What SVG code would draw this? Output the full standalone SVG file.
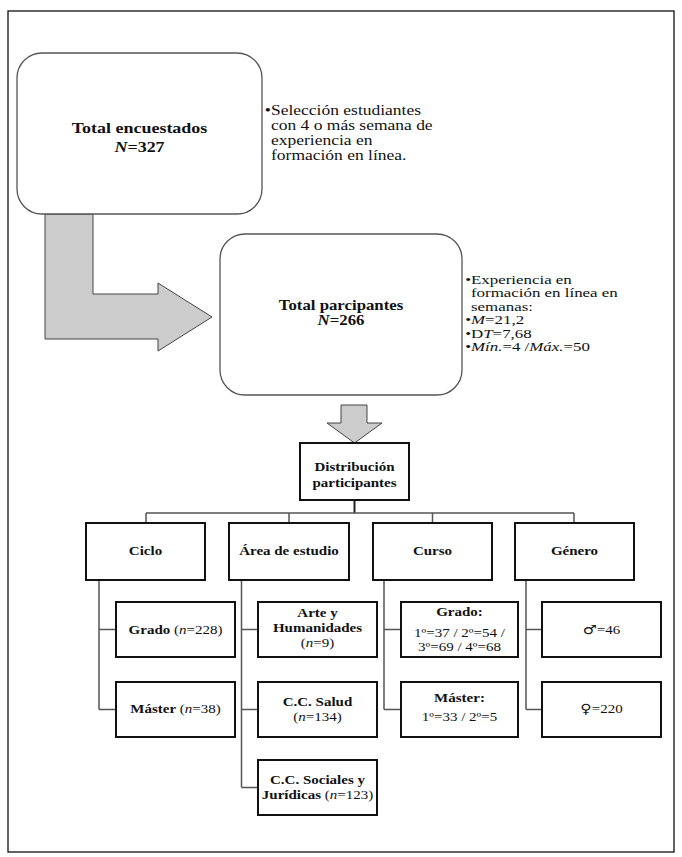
<svg xmlns="http://www.w3.org/2000/svg" width="682" height="857" viewBox="0 0 682 857">
<style>
text{font-family:"Liberation Serif","Times New Roman","DejaVu Serif",serif;fill:#111}
.t{font-size:14px;font-weight:bold;text-anchor:middle}
.t1{font-size:15px;font-weight:bold;text-anchor:middle}
.b1{font-size:14px}
.b2{font-size:13px}
.h{font-size:12.5px;font-weight:bold;text-anchor:middle}
.c{font-size:12.5px;text-anchor:middle}
.bo{font-weight:bold}
.i{font-style:italic}
.sym{font-family:"DejaVu Sans",sans-serif;font-size:13px}
.rr{fill:#fff;stroke:#555;stroke-width:1.3}
.bx{fill:#fff;stroke:#111;stroke-width:2}
.ln{fill:none;stroke:#555;stroke-width:1.5}
.ar{fill:#cccccc;stroke:#444;stroke-width:1}
</style>
<rect x="8" y="11" width="666" height="841" fill="#fff" stroke="#111" stroke-width="1.3"/>

<g id="connectors">
<polygon class="ar" points="45,214 93,214 93,294 158,294 158,283 212,317 158,351 158,339 45,339"/>
<polygon class="ar" points="341,405 367,405 367,423 382,423 354.5,443 327,423 341,423"/>
<path d="M354.5 500V513" fill="none" stroke="#222" stroke-width="2"/>
<path class="ln" d="M146 513H574M146 513V523M289 513V523M432.5 513V523M574 513V523"/>
<path class="ln" d="M99 580V709.5M99 629.5H116M99 709.5H116"/>
<path class="ln" d="M241.5 580V787.5M241.5 629.5H258M241.5 709.5H258M241.5 787.5H258"/>
<path class="ln" d="M384 580V709.5M384 629.5H401M384 709.5H401"/>
<path class="ln" d="M526 580V709.5M526 629.5H542M526 709.5H542"/>
</g>

<g id="total-encuestados">
<rect class="rr" x="17" y="53" width="245" height="161" rx="25"/>
<text class="t1" transform="matrix(1.2 0 0 1 139.5 0)"><tspan x="0" y="133">Total encuestados</tspan><tspan x="0" y="152"><tspan class="i">N</tspan>=327</tspan></text>
</g>
<g id="nota-seleccion">
<text class="b1" transform="matrix(1.25 0 0 1 271 0)"><tspan x="-5" y="115">•</tspan><tspan x="0" y="115">Selección estudiantes</tspan><tspan x="0" y="130">con 4 o más semana de</tspan><tspan x="0" y="145">experiencia en</tspan><tspan x="0" y="160">formación en línea.</tspan></text>
</g>

<g id="total-participantes">
<rect class="rr" x="220" y="234" width="242" height="161" rx="25"/>
<text class="t" transform="matrix(1.2 0 0 1 341 0)"><tspan x="0" y="310">Total parcipantes</tspan><tspan x="0" y="325"><tspan class="i">N</tspan>=266</tspan></text>
</g>
<g id="nota-experiencia">
<text class="b2" transform="matrix(1.3 0 0 1 471 0)"><tspan x="-4.5" y="284">•</tspan><tspan x="0" y="284">Experiencia en</tspan><tspan x="0" y="297.5">formación en línea en</tspan><tspan x="0" y="311">semanas:</tspan><tspan x="-4.5" y="324.5">•</tspan><tspan x="0" y="324.5"><tspan class="i">M</tspan>=21,2</tspan><tspan x="-4.5" y="338">•</tspan><tspan x="0" y="338">D<tspan class="i">T</tspan>=7,68</tspan><tspan x="-4.5" y="351.5">•</tspan><tspan x="0" y="351.5"><tspan class="i">Mín.</tspan>=4 /<tspan class="i">Máx.</tspan>=50</tspan></text>
</g>

<g id="distribucion">
<rect class="bx" x="300" y="443" width="109" height="57"/>
<text class="h" transform="matrix(1.2 0 0 1 354.5 0)"><tspan x="0" y="471">Distribución</tspan><tspan x="0" y="487">participantes</tspan></text>
</g>

<g id="ciclo">
<rect class="bx" x="86" y="523" width="119" height="57"/>
<text class="h" transform="matrix(1.2 0 0 1 145.5 0)" x="0" y="555.5">Ciclo</text>
</g>
<g id="area">
<rect class="bx" x="229" y="523" width="120" height="57"/>
<text class="h" transform="matrix(1.2 0 0 1 289 0)" x="0" y="555.5">Área de estudio</text>
</g>
<g id="curso">
<rect class="bx" x="373" y="523" width="119" height="57"/>
<text class="h" transform="matrix(1.2 0 0 1 432.5 0)" x="0" y="555.5">Curso</text>
</g>
<g id="genero">
<rect class="bx" x="515" y="523" width="119" height="57"/>
<text class="h" transform="matrix(1.2 0 0 1 574.5 0)" x="0" y="555.5">Género</text>
</g>

<g id="ciclo-grado">
<rect class="bx" x="116" y="602" width="119" height="55"/>
<text class="c" transform="matrix(1.2 0 0 1 175.5 0)" x="0" y="634"><tspan class="bo">Grado</tspan> (<tspan class="i">n</tspan>=228)</text>
</g>
<g id="ciclo-master">
<rect class="bx" x="116" y="682" width="119" height="55"/>
<text class="c" transform="matrix(1.2 0 0 1 175.5 0)" x="0" y="713.5"><tspan class="bo">Máster</tspan> (<tspan class="i">n</tspan>=38)</text>
</g>

<g id="area-arte">
<rect class="bx" x="258" y="602" width="119" height="55"/>
<text class="c" transform="matrix(1.2 0 0 1 317.5 0)"><tspan class="bo" x="0" y="617">Arte y</tspan><tspan class="bo" x="0" y="632">Humanidades</tspan><tspan x="0" y="647">(<tspan class="i">n</tspan>=9)</tspan></text>
</g>
<g id="area-salud">
<rect class="bx" x="258" y="682" width="119" height="55"/>
<text class="c" transform="matrix(1.2 0 0 1 317.5 0)"><tspan class="bo" x="0" y="706">C.C. Salud</tspan><tspan x="0" y="721">(<tspan class="i">n</tspan>=134)</tspan></text>
</g>
<g id="area-sociales">
<rect class="bx" x="258" y="760" width="119" height="55"/>
<text class="c" transform="matrix(1.2 0 0 1 317.5 0)"><tspan class="bo" x="0" y="784">C.C. Sociales y</tspan><tspan x="0" y="799"><tspan class="bo">Jurídicas</tspan> (<tspan class="i">n</tspan>=123)</tspan></text>
</g>

<g id="curso-grado">
<rect class="bx" x="401" y="602" width="117" height="55"/>
<text class="c" transform="matrix(1.2 0 0 1 459.5 0)"><tspan class="bo" x="0" y="616">Grado:</tspan><tspan x="0" y="637">1º=37 / 2º=54 /</tspan><tspan x="0" y="651">3º=69 / 4º=68</tspan></text>
</g>
<g id="curso-master">
<rect class="bx" x="401" y="682" width="117" height="55"/>
<text class="c" transform="matrix(1.2 0 0 1 459.5 0)"><tspan class="bo" x="0" y="702">Máster:</tspan><tspan x="0" y="721">1º=33 / 2º=5</tspan></text>
</g>

<g id="genero-hombre">
<rect class="bx" x="542" y="602" width="119" height="55"/>
<text class="c" transform="matrix(1.2 0 0 1 601.5 0)" x="0" y="634"><tspan class="sym">♂</tspan>=46</text>
</g>
<g id="genero-mujer">
<rect class="bx" x="542" y="682" width="119" height="55"/>
<text class="c" transform="matrix(1.2 0 0 1 601.5 0)" x="0" y="713"><tspan class="sym">♀</tspan>=220</text>
</g>
</svg>
